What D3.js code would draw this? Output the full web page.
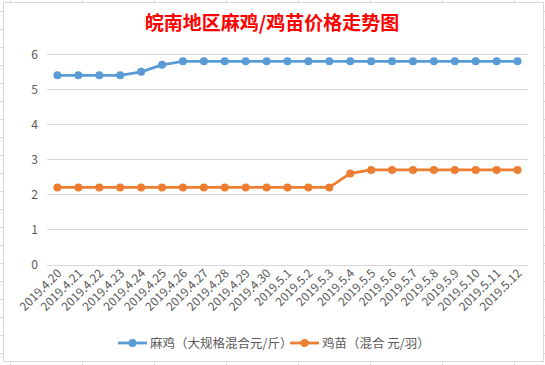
<!DOCTYPE html>
<html>
<head>
<meta charset="utf-8">
<script src="https://cdn.jsdelivr.net/npm/d3@7"></script>
<style>
  html, body { margin: 0; padding: 0; background: #fff; }
  svg { display: block; font-family: "Noto Sans CJK SC", "Noto Sans", sans-serif; }
</style>
</head>
<body>
<svg id="chart" width="545" height="365"></svg>
<script>
// ---------- 数据 ----------
const dates = [
  "2019.4.20", "2019.4.21", "2019.4.22", "2019.4.23", "2019.4.24", "2019.4.25",
  "2019.4.26", "2019.4.27", "2019.4.28", "2019.4.29", "2019.4.30",
  "2019.5.1", "2019.5.2", "2019.5.3", "2019.5.4", "2019.5.5", "2019.5.6",
  "2019.5.7", "2019.5.8", "2019.5.9", "2019.5.10", "2019.5.11", "2019.5.12"
];
// 麻鸡（大规格混合元/斤）
const maji = [5.4, 5.4, 5.4, 5.4, 5.5, 5.7, 5.8, 5.8, 5.8, 5.8, 5.8, 5.8,
              5.8, 5.8, 5.8, 5.8, 5.8, 5.8, 5.8, 5.8, 5.8, 5.8, 5.8];
// 鸡苗（混合 元/羽）
const jimiao = [2.2, 2.2, 2.2, 2.2, 2.2, 2.2, 2.2, 2.2, 2.2, 2.2, 2.2, 2.2,
                2.2, 2.2, 2.6, 2.7, 2.7, 2.7, 2.7, 2.7, 2.7, 2.7, 2.7];
const yTicks = [0, 1, 2, 3, 4, 5, 6];
const seriesNames = ["麻鸡（大规格混合元/斤）", "鸡苗（混合 元/羽）"];
const seriesColors = ["#5B9BD5", "#ED7D31"];
const title = "皖南地区麻鸡/鸡苗价格走势图";

const svg = d3.select("#chart");

// ---------- 背景：表格单元格线 + 图表边框 ----------
const cellLines = svg.append("g").attr("stroke", "#d9d9d9").attr("stroke-width", 1);
d3.range(10.5, 545, 72).forEach(x => {
  cellLines.append("line").attr("x1", x).attr("x2", x).attr("y1", 0).attr("y2", 2);
  cellLines.append("line").attr("x1", x).attr("x2", x).attr("y1", 362).attr("y2", 365);
});
d3.range(11.5, 365, 18).forEach(y => {
  cellLines.append("line").attr("x1", 0).attr("x2", 3).attr("y1", y).attr("y2", y);
  cellLines.append("line").attr("x1", 543).attr("x2", 545).attr("y1", y).attr("y2", y);
});
svg.append("rect")
  .attr("x", 3.5).attr("y", 2.5).attr("width", 540).attr("height", 359)
  .attr("fill", "#fff").attr("stroke", "#d9d9d9");

// ---------- 标题 ----------
svg.append("text")
  .attr("x", 272).attr("y", 30)
  .attr("text-anchor", "middle")
  .attr("fill", "#ff0000")
  .attr("font-size", 19).attr("font-weight", "bold")
  .text(title);

// ---------- 比例尺 ----------
const x = d3.scaleBand().domain(dates).range([47, 528]);
const y = d3.scaleLinear().domain([0, 6]).range([264.5, 54.3]);
const cx = d => x(d) + x.bandwidth() / 2;

// 网格线
svg.append("g")
  .selectAll("line").data(yTicks).join("line")
  .attr("x1", 47).attr("x2", 528)
  .attr("y1", d => Math.round(y(d)) + 0.5).attr("y2", d => Math.round(y(d)) + 0.5)
  .attr("stroke", "#d9d9d9");

// Y 轴标签
svg.append("g")
  .selectAll("text").data(yTicks).join("text")
  .attr("x", 38).attr("y", d => y(d) + 4.5)
  .attr("text-anchor", "end")
  .attr("fill", "#595959").attr("font-size", 12)
  .text(d => d);

// X 轴标签（-45° 旋转）
svg.append("g")
  .selectAll("text").data(dates).join("text")
  .attr("transform", d => `translate(${cx(d) + 5},${274}) rotate(-45)`)
  .attr("text-anchor", "end")
  .attr("fill", "#595959").attr("font-size", 12)
  .text(d => d);

// ---------- 折线 + 标记 ----------
const line = d3.line().x((v, i) => cx(dates[i])).y(v => y(v));
[maji, jimiao].forEach((vals, si) => {
  svg.append("path")
    .datum(vals)
    .attr("d", line)
    .attr("fill", "none")
    .attr("stroke", seriesColors[si])
    .attr("stroke-width", 2.8)
    .attr("stroke-linejoin", "round");
  svg.append("g")
    .selectAll("circle").data(vals).join("circle")
    .attr("cx", (v, i) => cx(dates[i]))
    .attr("cy", v => y(v))
    .attr("r", 4)
    .attr("fill", seriesColors[si]);
});

// ---------- 图例 ----------
const legendX = [118, 290];
seriesNames.forEach((name, i) => {
  const g = svg.append("g").attr("transform", `translate(${legendX[i]},343)`);
  g.append("line").attr("x1", 0).attr("x2", 29).attr("y1", 0).attr("y2", 0)
    .attr("stroke", seriesColors[i]).attr("stroke-width", 2.8);
  g.append("circle").attr("cx", 14.5).attr("cy", 0).attr("r", 4).attr("fill", seriesColors[i]);
  g.append("text").attr("x", 32).attr("y", 4.5)
    .attr("fill", "#595959").attr("font-size", 12.5)
    .text(name);
});
</script>
</body>
</html>
